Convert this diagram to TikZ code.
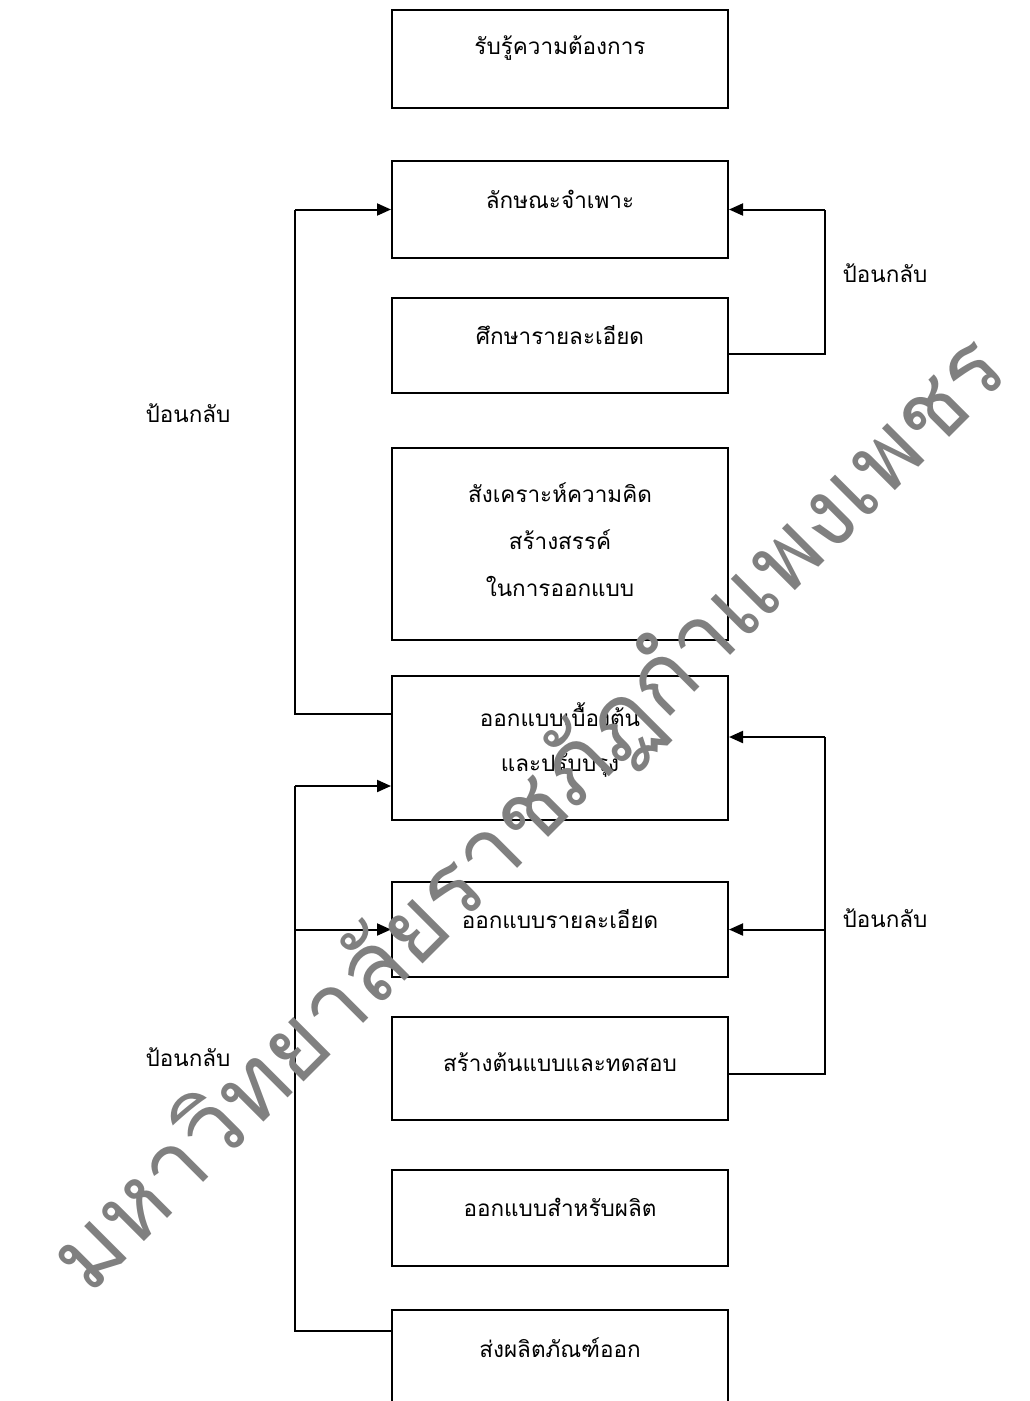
\documentclass[tikz,border=0pt]{standalone}
\usepackage{fontspec}
\newfontfamily\thaifont[Script=Thai]{Loma}
\usetikzlibrary{arrows.meta,calc}
\begin{document}
\begin{tikzpicture}[x=1pt,y=-1pt,
  box/.style={draw, line width=2pt, minimum width=336pt, inner sep=0pt},
  lbl/.style={font=\thaifont\fontsize{22.5}{47}\selectfont, align=center, inner sep=0pt},
  conn/.style={line width=2pt},
  arr/.style={line width=2pt, -{Triangle[length=14pt,width=12pt]}}]
\path[use as bounding box, clip] (0,0) rectangle (1029,1401);
% boxes
\node[box, minimum height=98pt] (b1) at (560,59) {};
\node[box, minimum height=97pt] (b2) at (560,209.5) {};
\node[box, minimum height=95pt] (b3) at (560,345.5) {};
\node[box, minimum height=192pt] (b4) at (560,544) {};
\node[box, minimum height=144pt] (b5) at (560,748) {};
\node[box, minimum height=95pt] (b6) at (560,929.5) {};
\node[box, minimum height=103pt] (b7) at (560,1068.5) {};
\node[box, minimum height=96pt] (b8) at (560,1218) {};
\node[box, minimum height=130pt] (b9) at (560,1375) {};
% texts
\node[lbl] (t1) at ($(b1.center)+(0,-11)$) {รับรู้ความต้องการ};
\node[lbl] (t2) at ($(b2.center)+(0,-10)$) {ลักษณะจำเพาะ};
\node[lbl] (t3) at ($(b3.center)+(0,-10)$) {ศึกษารายละเอียด};
\node[lbl] (t4) at ($(b4.center)+(0,-4)$) {สังเคราะห์ความคิด\\สร้างสรรค์\\ในการออกแบบ};
\node[lbl] (t5) at ($(b5.center)+(0,-8)$) {ออกแบบเบื้องต้น\\[-2pt]และปรับปรุง};
\node[lbl] (t6) at ($(b6.center)+(0,-10)$) {ออกแบบรายละเอียด};
\node[lbl] (t7) at ($(b7.center)+(0,-6)$) {สร้างต้นแบบและทดสอบ};
\node[lbl] (t8) at ($(b8.center)+(0,-11)$) {ออกแบบสำหรับผลิต};
\node[lbl] (t9) at (560,1348) {ส่งผลิตภัณฑ์ออก};
% feedback labels
\node[lbl] (f1) at (885,273) {ป้อนกลับ};
\node[lbl] (f2) at (188,413) {ป้อนกลับ};
\node[lbl] (f3) at (885,918) {ป้อนกลับ};
\node[lbl] (f4) at (188,1057) {ป้อนกลับ};
% junction coordinates
\coordinate (r1) at (825,209.5);
\coordinate (l1) at (295,209.5);
\coordinate (r2) at (825,737);
\coordinate (r3) at (825,929.5);
\coordinate (l2) at (295,786);
\coordinate (l3) at (295,929.5);
% connectors
\draw[conn] ($(b3.east)+(0,8)$) -| (r1);
\draw[arr] (r1) -- (b2.east);
\draw[conn] ($(b5.west)+(0,-34)$) -| (l1);
\draw[arr] (l1) -- (b2.west);
\draw[conn] ($(b7.east)+(0,5.5)$) -| (r2);
\draw[arr] (r2) -- (r2 -| b5.east);
\draw[arr] (r3) -- (b6.east);
\draw[conn] ($(b9.west)+(0,-44)$) -| (l2);
\draw[arr] (l2) -- (l2 -| b5.west);
\draw[arr] (l3) -- (b6.west);
% watermark
\node[text=gray, font=\thaifont\fontsize{95}{95}\selectfont, rotate=45, inner sep=0pt] (wm) at (530,815) {มหาวิทยาลัยราชภัฏกำแพงเพชร};
\end{tikzpicture}
\end{document}
